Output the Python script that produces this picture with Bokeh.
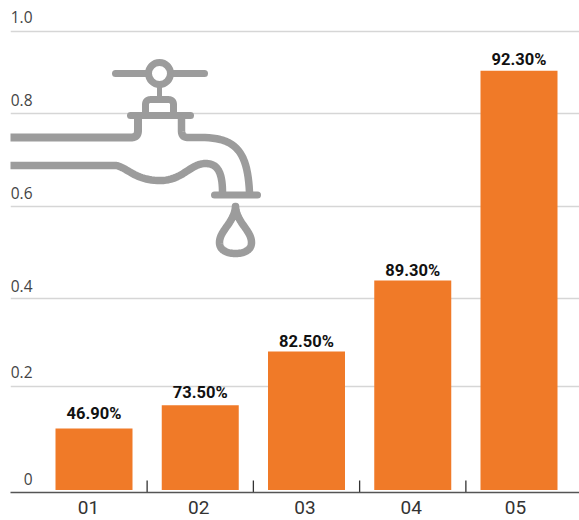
from bokeh.plotting import figure
from bokeh.models import ColumnDataSource, FixedTicker, LabelSet, Range1d, Grid, LinearAxis
from bokeh.core.properties import value
from bokeh.embed import file_html
from bokeh.resources import INLINE
import numpy as np

# --- data -----------------------------------------------------------------
categories = ["01", "02", "03", "04", "05"]
bar_heights = [0.139, 0.189, 0.306, 0.460, 0.915]   # height against the drawn grid
bar_labels = ["46.90%", "73.50%", "82.50%", "89.30%", "92.30%"]
grid_values = [0.0, 0.230, 0.421, 0.621, 0.822, 1.0]  # the printed axis is unevenly spaced
grid_labels = ["0", "0.2", "0.4", "0.6", "0.8", "1.0"]

# --- layout constants -----------------------------------------------------
W, H = 579, 520
LEFT, BOTTOM_PX, TOP_PX = 10, 492, 0
PX_X = 106.25       # pixels per category
PX_Y = 461.0        # pixels per unit of grid
X0 = -(93.5 - LEFT) / PX_X
X1 = X0 + (W - LEFT) / PX_X
Y1 = (BOTTOM_PX - TOP_PX) / PX_Y
ORANGE = "#f07a28"
ICON = "#9c9c9c"

p = figure(width=W, height=H, output_backend="svg", toolbar_location=None,
           x_range=Range1d(X0, X1), y_range=Range1d(0, Y1),
           x_axis_type=None, y_axis_type=None,
           min_border_left=LEFT, min_border_right=0, min_border_top=0,
           min_border_bottom=H - BOTTOM_PX)
p.outline_line_color = None
p.background_fill_color = None
p.border_fill_color = None

# grid (0 is the axis itself)
p.add_layout(Grid(dimension=1, ticker=FixedTicker(ticks=grid_values[1:]),
                  grid_line_color="#d6d6d6", grid_line_width=1.3))

# category axis; its labels sit slightly off the bar centres in the reference
label_nudge_px = [-5.5, -1.5, -1.5, -1.5, -3.5]
label_ticks = [i + n / PX_X for i, n in enumerate(label_nudge_px)]
axis = LinearAxis(ticker=FixedTicker(ticks=label_ticks, minor_ticks=[]),
                  major_label_overrides=dict(zip(label_ticks, categories)),
                  major_tick_line_color=None, minor_tick_line_color=None,
                  axis_line_color="#555555", axis_line_width=1.6,
                  major_label_standoff=2,
                  major_label_text_font="Roboto", major_label_text_font_size="19px",
                  major_label_text_color="#333333")
p.add_layout(axis, "below")

# separators between categories
sep_x = [i + 0.5 for i in range(len(categories) - 1)]
p.segment(x0=sep_x, x1=sep_x, y0=[0] * len(sep_x), y1=[12 / PX_Y] * len(sep_x),
          line_color="#333333", line_width=1.3)


# --- faucet icon: reference pixel coordinates mapped to the plot -----------
def X(px):
    return X0 + (np.asarray(px, float) - LEFT) / PX_X


def Y(py):
    return (BOTTOM_PX - np.asarray(py, float)) / PX_Y


def path(start, *segs):
    """Polyline from a start point; 2-tuples are lines, 6-tuples cubic curves."""
    xs, ys = [start[0]], [start[1]]
    for s in segs:
        if len(s) == 2:
            xs.append(s[0]); ys.append(s[1])
        else:
            x0, y0 = xs[-1], ys[-1]
            for t in np.linspace(0, 1, 24)[1:]:
                u = 1 - t
                xs.append(u**3*x0 + 3*u*u*t*s[0] + 3*u*t*t*s[2] + t**3*s[4])
                ys.append(u**3*y0 + 3*u*u*t*s[1] + 3*u*t*t*s[3] + t**3*s[5])
    return X(xs).tolist(), Y(ys).tolist()


icon_paths = [
    (path((115, 73), (148, 73)), 7),                    # handle left
    (path((170, 73), (204, 73)), 7),                    # handle right
    (path((159, 86), (159, 98)), 5),                    # stem
    (path((145, 113), (145, 104), (145, 100, 148, 99, 151, 99), (167, 99),
          (170, 99, 173, 100, 173, 104), (173, 113)), 7),  # cap
    (path((130, 115), (190, 115)), 7),                  # flange
    (path((10, 137), (130, 137), (135, 137, 137.5, 135, 137.5, 130), (137.5, 118)), 8),  # upper left
    (path((181, 118), (181, 130), (181, 135, 183, 137, 188, 137), (200, 137),
          (235, 137, 247, 150, 249, 192)), 7.5),        # upper right
    (path((10, 165), (116, 165), (128, 168, 135, 180, 160, 180),
          (182, 180, 190, 163, 205, 163), (216, 163, 222, 170, 222, 192)), 7.5),  # lower
    (path((214, 194.5), (257, 194.5)), 7),              # nozzle
    (path((235, 206), (234, 222, 219, 230, 219, 242), (219, 250, 227, 253, 235, 253),
          (243, 253, 251, 250, 251, 242), (251, 230, 236, 222, 235, 206)), 7.5),  # drop
]
for (xs_i, ys_i), lw in icon_paths:
    p.line(xs_i, ys_i, line_color=ICON, line_width=lw, line_cap="round", line_join="round")
p.scatter(X([159]), Y([73]), size=22, marker="circle", fill_color="white",
          line_color=ICON, line_width=7)

# --- bars -----------------------------------------------------------------
xs = list(range(len(categories)))
p.vbar(x=xs, top=bar_heights, bottom=2.4 / PX_Y, width=77 / PX_X,
       fill_color=ORANGE, line_color=None)

# --- texts ----------------------------------------------------------------
bar_src = ColumnDataSource(dict(x=xs, y=bar_heights, t=bar_labels, dy=[15, 13, 10, 10, 11]))
p.add_layout(LabelSet(x="x", y="y", text="t", source=bar_src, y_offset="dy",
                      text_align="center", text_baseline="middle",
                      text_font=value("Roboto"), text_font_style="bold",
                      text_font_size="16.5px", text_color="#111111"))

tick_src = ColumnDataSource(dict(x=[X0] * len(grid_values), y=grid_values, t=grid_labels,
                                 dy=[14, 14, 12, 13, 14, 15]))
p.add_layout(LabelSet(x="x", y="y", text="t", source=tick_src, x_offset=22, y_offset="dy",
                      text_align="right", text_baseline="middle",
                      text_font=value("Open Sans"), text_font_size="15.5px", text_color="#444444"))

open("out.html", "w").write(file_html(p, INLINE))
